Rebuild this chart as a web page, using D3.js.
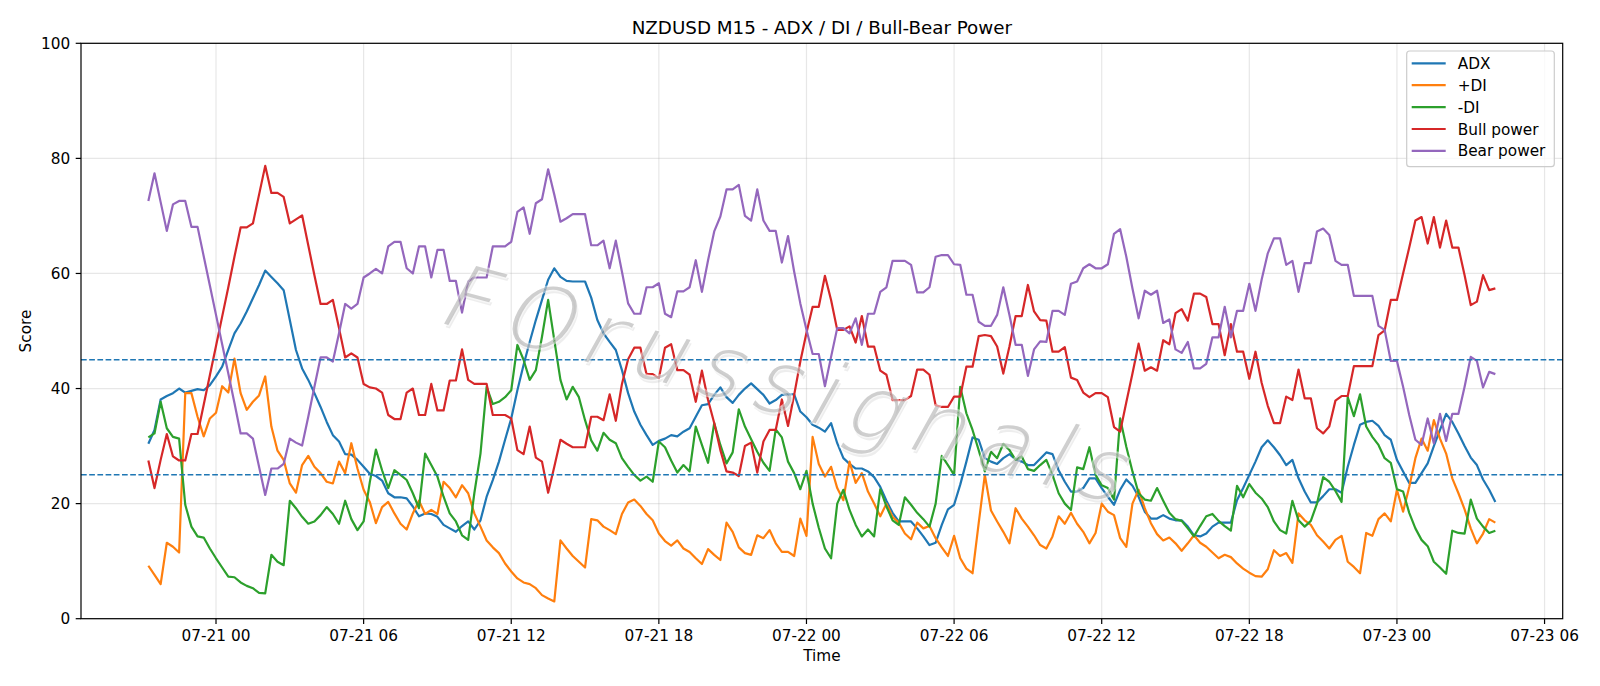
<!DOCTYPE html>
<html>
<head>
<meta charset="utf-8">
<script src="https://cdn.jsdelivr.net/npm/d3@7"></script>
<style>
  body { margin: 0; background: #fff; }
  svg { display: block; }
  text { font-family: "DejaVu Sans", sans-serif; }
</style>
</head>
<body>
<svg id="chart" width="1600" height="686"></svg>
<script>
// M15 bars, first bar 07-20 21:15
const firstBar = Date.UTC(2025, 6, 20, 21, 15);
const barMinutes = 15;

const adx = [30.4, 32.8, 38.1, 38.7, 39.2, 40.0, 39.3, 39.6, 39.9, 39.7, 40.6,
  42.1, 43.8, 46.7, 49.6, 51.3, 53.4, 55.7, 58.0, 60.5, 59.4,
  58.3, 57.1, 51.9, 46.7, 43.5, 41.5, 39.2, 36.8, 34.2, 31.9,
  30.8, 28.6, 28.5, 27.6, 26.4, 25.2, 24.8, 24.0, 21.8, 21.1,
  21.1, 20.9, 19.5, 17.8, 18.3, 18.2, 17.7, 16.3, 15.7, 15.1,
  16.1, 16.9, 15.5, 17.1, 21.2, 24.1, 27.3, 31.1, 34.8, 39.7,
  44.1, 48.1, 51.9, 55.4, 58.9, 60.9, 59.4, 58.7, 58.6, 58.6,
  58.6, 55.8, 51.9, 49.6, 48.1, 46.7, 43.2, 39.2, 36.0, 33.7,
  31.9, 30.2, 30.9, 31.3, 31.9, 31.7, 32.5, 33.1, 35.1, 37.1,
  37.3, 38.9, 40.2, 38.5, 37.5, 38.9, 40.0, 40.9, 39.9, 38.9,
  37.4, 38.0, 38.9, 39.0, 39.0, 36.0, 35.0, 33.7, 33.2, 32.5,
  34.0, 30.5, 27.9, 26.9, 26.1, 26.1, 25.6, 24.6, 22.9, 20.5,
  18.4, 16.9, 16.9, 16.9, 15.7, 14.3, 12.8, 13.2, 16.3, 19.0,
  19.8, 23.3, 27.3, 31.5, 31.1, 27.9, 27.3, 26.9, 27.9, 28.6,
  27.7, 27.3, 26.7, 26.7, 27.8, 28.9, 28.6, 25.8, 23.8, 22.1,
  22.1, 22.7, 24.4, 24.4, 22.7, 21.2, 19.8, 22.4, 24.2, 23.1,
  21.2, 18.6, 17.4, 17.4, 18.0, 17.4, 17.1, 17.1, 16.0, 14.5,
  14.3, 14.8, 16.0, 16.7, 16.7, 16.7, 20.6, 22.7, 25.0, 27.3,
  29.8, 31.0, 29.8, 28.4, 26.7, 27.6, 24.4, 22.1, 20.2, 20.2,
  21.3, 22.5, 22.5, 21.9, 26.4, 30.2, 33.7, 34.2, 34.4, 33.5,
  31.9, 31.1, 27.6, 25.6, 23.6, 23.6, 25.3, 27.0, 30.0, 32.8,
  35.6, 34.2, 32.2, 30.0, 28.0, 26.7, 24.2, 22.4, 20.3];

const plusDI = [9.2, 7.6, 6.0, 13.2, 12.5, 11.5, 39.2, 39.2, 35.1, 31.7, 34.8,
  35.8, 40.4, 39.3, 45.2, 39.2, 36.3, 37.7, 38.8, 42.1, 33.4,
  29.2, 27.6, 23.5, 21.9, 26.7, 28.3, 26.4, 25.3, 23.8, 23.5,
  27.3, 25.3, 30.5, 26.1, 22.4, 20.3, 16.6, 19.4, 20.3, 18.3,
  16.5, 15.5, 18.3, 20.5, 18.2, 18.9, 18.2, 23.8, 22.7, 21.1,
  23.2, 21.8, 18.3, 16.0, 13.6, 12.4, 11.4, 9.6, 8.2, 7.0,
  6.3, 6.0, 5.3, 4.1, 3.5, 3.0, 13.6, 12.2, 10.9, 9.9,
  8.9, 17.3, 17.1, 16.0, 15.4, 14.7, 18.2, 20.2, 20.7, 19.6,
  18.2, 17.1, 14.8, 13.5, 12.7, 13.6, 12.2, 11.6, 10.5, 9.5,
  12.1, 11.1, 10.2, 16.7, 15.1, 12.4, 11.4, 11.1, 14.5, 14.0,
  15.4, 13.1, 11.6, 11.6, 10.9, 17.4, 14.4, 31.6, 26.9, 24.7,
  26.4, 22.7, 20.6, 27.3, 23.6, 25.3, 22.1, 20.0, 17.8, 20.0,
  17.7, 16.7, 14.8, 13.8, 16.7, 15.7, 16.1, 14.0, 12.4, 10.9,
  14.4, 10.5, 8.7, 7.9, 16.6, 25.0, 18.8, 16.9, 15.1, 13.1,
  19.2, 17.4, 16.0, 14.5, 12.8, 12.2, 14.3, 17.8, 16.5, 18.4,
  16.5, 15.1, 13.1, 14.9, 20.0, 18.6, 18.0, 14.0, 12.5, 20.0,
  22.4, 19.2, 16.6, 14.7, 13.6, 14.1, 13.1, 11.8, 13.1, 14.5,
  13.2, 12.5, 11.5, 10.5, 11.1, 10.7, 9.6, 8.7, 8.0, 7.4,
  7.3, 8.6, 11.9, 10.9, 11.4, 9.7, 18.3, 17.1, 16.3, 14.5,
  13.4, 12.2, 13.7, 14.4, 9.9, 9.0, 7.9, 14.9, 14.4, 17.3,
  18.3, 16.9, 22.4, 18.6, 22.9, 27.9, 31.3, 29.2, 34.5, 31.3,
  28.7, 24.4, 21.8, 19.0, 15.7, 13.1, 14.8, 17.3, 16.7];

const minusDI = [31.5, 32.2, 37.7, 33.1, 31.6, 31.3, 19.8, 16.0, 14.3, 14.1, 12.2,
  10.5, 8.9, 7.3, 7.2, 6.3, 5.7, 5.3, 4.5, 4.4, 11.1,
  9.9, 9.3, 20.5, 19.2, 17.7, 16.5, 16.9, 18.0, 19.4, 18.2,
  16.5, 20.5, 17.3, 15.4, 16.9, 23.7, 29.4, 25.8, 22.7, 25.8,
  25.0, 24.1, 21.8, 19.2, 28.7, 26.7, 24.7, 21.2, 18.3, 16.9,
  14.5, 13.7, 21.8, 28.7, 40.3, 37.3, 37.7, 38.5, 39.7, 47.6,
  45.0, 41.5, 43.2, 49.0, 55.4, 48.4, 41.5, 38.1, 40.3, 38.5,
  34.5, 31.0, 29.2, 32.3, 31.1, 30.5, 27.9, 26.4, 25.0, 24.0,
  24.7, 23.8, 30.8, 29.8, 27.5, 25.4, 26.7, 25.6, 33.4, 30.2,
  27.1, 34.0, 30.2, 27.0, 28.9, 36.4, 33.4, 31.2, 29.0, 27.1,
  25.7, 32.9, 31.5, 27.3, 25.3, 22.5, 25.7, 20.0, 15.8, 12.2,
  10.5, 20.0, 22.4, 18.9, 16.3, 14.3, 15.5, 14.3, 22.5, 19.5,
  17.1, 16.3, 21.1, 19.8, 18.4, 17.3, 16.0, 20.0, 28.3, 26.7,
  25.0, 40.3, 35.7, 32.8, 29.3, 25.6, 29.0, 27.9, 30.4, 29.3,
  27.6, 28.2, 26.0, 25.7, 26.7, 27.6, 25.0, 21.8, 20.0, 18.9,
  26.3, 26.0, 29.8, 25.0, 23.2, 22.7, 20.7, 34.8, 29.9, 25.6,
  21.8, 20.7, 20.5, 22.7, 20.5, 18.4, 17.3, 17.0, 15.7, 14.3,
  16.1, 17.8, 18.2, 17.0, 16.1, 15.3, 23.1, 21.1, 23.4, 21.9,
  20.9, 19.4, 16.9, 15.4, 14.8, 20.5, 17.1, 16.0, 17.0, 20.0,
  24.6, 23.8, 22.2, 20.3, 38.5, 35.2, 39.0, 33.4, 31.6, 30.2,
  27.9, 27.1, 22.5, 22.1, 18.4, 15.7, 13.7, 12.6, 9.9, 8.9,
  7.8, 15.3, 14.9, 14.8, 20.7, 17.4, 16.0, 14.9, 15.3];

const bullPower = [27.5, 22.7, 27.6, 32.1, 28.2, 27.5, 27.5, 32.1, 32.1, 37.2, 42.3,
  47.4, 52.5, 57.6, 62.9, 68.0, 68.0, 68.7, 73.7, 78.7, 74.0,
  74.0, 73.3, 68.7, 69.4, 70.1, 64.9, 59.7, 54.7, 54.7, 55.4,
  50.5, 45.4, 46.1, 45.4, 40.8, 40.2, 40.0, 39.3, 35.4, 34.7,
  34.7, 39.3, 40.0, 35.4, 35.4, 40.8, 36.2, 36.2, 41.4, 41.4,
  46.8, 41.5, 40.8, 40.8, 40.8, 35.4, 35.4, 35.4, 34.8, 29.3,
  28.6, 33.4, 28.0, 27.3, 21.9, 26.4, 31.1, 30.4, 29.8, 29.8,
  29.8, 35.1, 35.1, 34.5, 39.0, 34.4, 40.8, 45.1, 47.1, 47.1,
  42.5, 42.5, 41.8, 47.1, 47.7, 43.2, 43.2, 42.4, 37.7, 43.1,
  38.0, 34.0, 29.3, 25.6, 25.4, 24.8, 30.0, 30.6, 25.4, 30.8,
  32.8, 32.8, 38.1, 33.5, 38.9, 44.7, 49.7, 54.2, 54.2, 59.6,
  55.4, 50.2, 50.2, 50.8, 48.0, 52.6, 47.3, 47.3, 43.1, 42.4,
  38.0, 38.0, 38.0, 38.7, 43.3, 43.3, 42.4, 37.1, 36.8, 36.8,
  38.6, 38.6, 43.8, 43.8, 49.1, 49.3, 49.1, 47.3, 42.6, 47.3,
  52.6, 52.6, 58.0, 53.4, 51.9, 51.8, 46.4, 46.4, 47.2, 41.9,
  41.5, 39.3, 38.5, 39.2, 39.2, 38.5, 33.3, 32.5, 37.6, 42.6,
  47.8, 43.1, 43.7, 43.1, 48.4, 47.7, 53.1, 53.8, 51.8, 56.5,
  56.5, 55.9, 51.2, 51.2, 45.8, 51.2, 46.4, 46.4, 41.7, 46.4,
  41.0, 37.0, 34.0, 34.0, 38.6, 38.0, 43.3, 38.3, 38.3, 33.1,
  32.2, 33.4, 37.9, 38.7, 38.7, 43.9, 43.9, 43.9, 43.9, 49.3,
  50.1, 55.4, 55.4, 60.0, 64.5, 69.2, 69.8, 65.2, 69.8, 64.5,
  69.2, 64.5, 64.5, 59.7, 54.5, 55.1, 59.7, 57.1, 57.4];

const bearPower = [72.6, 77.4, 72.4, 67.4, 72.0, 72.6, 72.6, 68.1, 68.1, 63.0, 57.9,
  52.8, 47.7, 42.6, 37.5, 32.2, 32.2, 31.3, 26.4, 21.5, 26.1,
  26.1, 26.9, 31.3, 30.6, 30.1, 35.1, 40.3, 45.4, 45.4, 44.7,
  49.6, 54.7, 53.9, 54.7, 59.3, 60.0, 60.8, 60.0, 64.7, 65.5,
  65.5, 60.9, 60.0, 64.7, 64.7, 59.3, 64.1, 64.1, 58.7, 58.7,
  53.2, 58.6, 59.3, 59.3, 59.3, 64.7, 64.7, 64.7, 65.5, 70.7,
  71.5, 66.9, 72.2, 72.9, 78.1, 73.7, 69.0, 69.6, 70.3, 70.3,
  70.3, 64.9, 64.9, 65.7, 60.9, 65.7, 60.3, 54.8, 53.0, 53.0,
  57.6, 57.6, 58.3, 53.0, 52.4, 56.9, 56.9, 57.6, 62.3, 56.8,
  62.3, 67.3, 69.9, 74.6, 74.6, 75.4, 70.0, 69.2, 74.6, 69.2,
  67.4, 67.4, 61.9, 66.5, 60.3, 54.8, 50.2, 46.0, 46.0, 40.4,
  45.5, 50.5, 50.5, 49.6, 52.2, 47.6, 53.0, 53.0, 56.8, 57.6,
  62.2, 62.2, 62.2, 61.5, 56.7, 56.7, 57.6, 62.9, 63.2, 63.2,
  61.6, 61.5, 56.3, 56.3, 51.6, 50.9, 50.9, 52.8, 57.6, 52.8,
  47.6, 47.6, 42.2, 46.8, 48.2, 48.1, 53.5, 53.5, 52.8, 58.2,
  58.6, 60.9, 61.6, 60.9, 60.9, 61.6, 66.9, 67.7, 62.9, 57.4,
  52.2, 57.0, 56.3, 57.0, 51.4, 52.0, 46.8, 46.2, 48.1, 43.5,
  43.5, 44.3, 48.9, 48.9, 54.2, 48.9, 53.5, 53.5, 58.2, 53.5,
  58.9, 63.5, 66.1, 66.1, 61.5, 62.2, 56.8, 61.8, 61.8, 67.3,
  67.8, 66.7, 62.2, 61.5, 61.5, 56.1, 56.1, 56.1, 56.1, 50.9,
  50.2, 44.8, 44.8, 40.3, 35.4, 31.1, 30.2, 34.8, 30.5, 35.6,
  30.9, 35.6, 35.6, 40.3, 45.5, 44.8, 40.2, 42.9, 42.5];

const seriesNames = ["ADX", "+DI", "-DI", "Bull power", "Bear power"];
const seriesColors = ["#1f77b4", "#ff7f0e", "#2ca02c", "#d62728", "#9467bd"];
const thresholds = [25, 45];
const yTicks = [0, 20, 40, 60, 80, 100];
const watermark = "FOrussignals";

const times = adx.map((_, i) => new Date(firstBar + i * barMinutes * 60000));
const allSeries = [adx, plusDI, minusDI, bullPower, bearPower];

const svg = d3.select("#chart");
const x0 = 81, x1 = 1562.7, y0 = 618.7, y1 = 43.3;

// 5% padding on the time axis, like matplotlib
const tMin = times[0].getTime(), tMax = times[times.length - 1].getTime();
const pad = (tMax - tMin) * 0.05;
const x = d3.scaleUtc().domain([tMin - pad, tMax + pad]).range([x0, x1]);
const y = d3.scaleLinear().domain([0, 100]).range([y0, y1]);

const xTicks = d3.utcHour.every(6).range(new Date(tMin - pad), new Date(tMax + pad));
const fmt = d3.utcFormat("%m-%d %H");

// grid
const grid = svg.append("g");
grid.selectAll(".gx").data(xTicks).join("line")
  .attr("x1", d => x(d)).attr("x2", d => x(d)).attr("y1", y0).attr("y2", y1)
  .attr("stroke", "#b0b0b0").attr("stroke-opacity", 0.3).attr("stroke-width", 1.2);
grid.selectAll(".gy").data(yTicks).join("line")
  .attr("x1", x0).attr("x2", x1).attr("y1", d => y(d)).attr("y2", d => y(d))
  .attr("stroke", "#b0b0b0").attr("stroke-opacity", 0.3).attr("stroke-width", 1.2);

// series
const line = d3.line().x((d, i) => x(times[i])).y(d => y(d));
svg.append("g").selectAll("path").data(allSeries).join("path")
  .attr("d", d => line(d))
  .attr("fill", "none")
  .attr("stroke", (d, i) => seriesColors[i])
  .attr("stroke-width", 2.2)
  .attr("stroke-linejoin", "round");

// thresholds
svg.append("g").selectAll("line").data(thresholds).join("line")
  .attr("x1", x0).attr("x2", x1).attr("y1", d => y(d)).attr("y2", d => y(d))
  .attr("stroke", "#1f77b4").attr("stroke-width", 1.5)
  .attr("stroke-dasharray", "5.7,2.5");

// watermark: thin grey slanted glyphs, soft shadow, white halo
const wm = svg.append("g").attr("transform", "translate(792,392) rotate(15) skewX(-14)");
const wmText = sel => sel
  .attr("text-anchor", "middle").attr("dominant-baseline", "middle")
  .attr("font-size", 88).attr("font-weight", 200)
  .attr("letter-spacing", 13)
  .text(watermark);
wm.append("text").call(wmText)
  .attr("x", 3).attr("y", 3)
  .attr("fill", "#000").attr("fill-opacity", 0.07);
wm.append("text").call(wmText)
  .attr("fill", "#a0a0a0").attr("fill-opacity", 0.5)
  .attr("stroke", "#fff").attr("stroke-opacity", 0.5).attr("stroke-width", 3)
  .attr("paint-order", "stroke");

// frame
svg.append("rect").attr("x", x0).attr("y", y1).attr("width", x1 - x0).attr("height", y0 - y1)
  .attr("fill", "none").attr("stroke", "#000").attr("stroke-width", 1.2);

// x axis
const xa = svg.append("g");
xa.selectAll("line").data(xTicks).join("line")
  .attr("x1", d => x(d)).attr("x2", d => x(d)).attr("y1", y0).attr("y2", y0 + 5.3)
  .attr("stroke", "#000").attr("stroke-width", 1.2);
xa.selectAll("text").data(xTicks).join("text")
  .attr("x", d => x(d)).attr("y", 641).attr("text-anchor", "middle")
  .attr("font-size", 15.3).attr("fill", "#000").text(d => fmt(d));

// y axis
const ya = svg.append("g");
ya.selectAll("line").data(yTicks).join("line")
  .attr("x1", x0 - 5.3).attr("x2", x0).attr("y1", d => y(d)).attr("y2", d => y(d))
  .attr("stroke", "#000").attr("stroke-width", 1.2);
ya.selectAll("text").data(yTicks).join("text")
  .attr("x", x0 - 10.7).attr("y", d => y(d)).attr("dy", "0.36em").attr("text-anchor", "end")
  .attr("font-size", 15.3).attr("fill", "#000").text(d => d);

// labels
svg.append("text").attr("x", (x0 + x1) / 2).attr("y", 661).attr("text-anchor", "middle")
  .attr("font-size", 15.3).text("Time");
svg.append("text").attr("transform", `translate(31,${(y0 + y1) / 2}) rotate(-90)`)
  .attr("text-anchor", "middle").attr("font-size", 15.3).text("Score");
svg.append("text").attr("x", (x0 + x1) / 2).attr("y", 34).attr("text-anchor", "middle")
  .attr("font-size", 18.3).text("NZDUSD M15 - ADX / DI / Bull-Bear Power");

// legend
const lg = svg.append("g");
lg.append("rect").attr("x", 1406.7).attr("y", 51).attr("width", 147.6).attr("height", 115.7)
  .attr("rx", 3).attr("fill", "#fff").attr("fill-opacity", 0.8)
  .attr("stroke", "#cccccc").attr("stroke-width", 1.2);
const rows = lg.selectAll("g").data(seriesNames).join("g")
  .attr("transform", (d, i) => `translate(0,${63.3 + i * 21.9})`);
rows.append("line").attr("x1", 1411.7).attr("x2", 1445.7)
  .attr("stroke", (d, i) => seriesColors[i]).attr("stroke-width", 2.2);
rows.append("text").attr("x", 1457.7).attr("dy", "0.36em")
  .attr("font-size", 15.3).text(d => d);
</script>
</body>
</html>
